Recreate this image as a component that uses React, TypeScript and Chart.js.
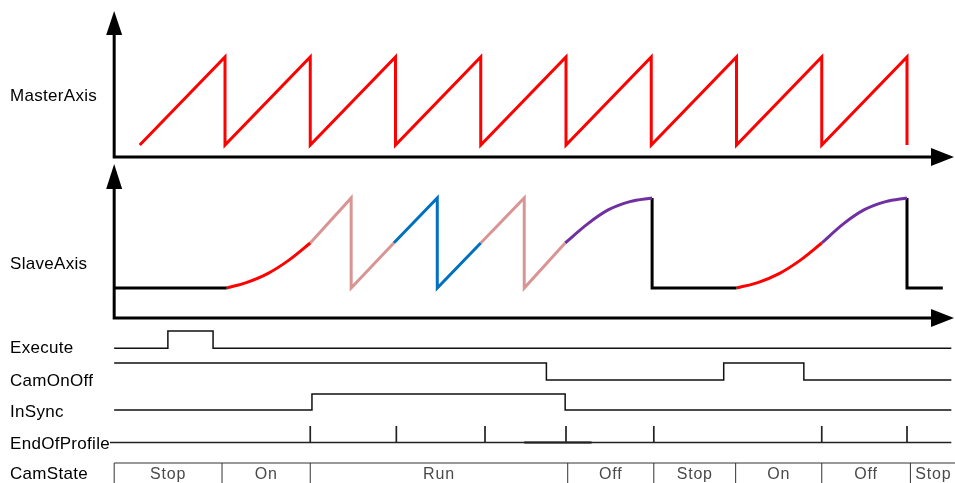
import React, { useEffect, useRef } from "react";
import { Chart, registerables } from "chart.js";

Chart.register(...registerables);

// ---------------- data (time measured in master-axis cycles) ----------------
const masterTime = [0, 1, 1, 2, 2, 3, 3, 4, 4, 5, 5, 6, 6, 7, 7, 8, 8, 9, 9];
const masterPos = [0, 1, 0, 1, 0, 1, 0, 1, 0, 1, 0, 1, 0, 1, 0, 1, 0, 1, 0];

// slave axis pieces
const slaveIdle1T = [-0.3, 1.02];
const slaveIdle1V = [0, 0];
const slaveCamIn1T = [1.02, 1.25, 1.5, 1.75, 2.0];
const slaveCamIn1V = [0, 0.06, 0.16, 0.31, 0.5];
const slaveRunA1T = [2.0, 2.48, 2.48, 2.98];
const slaveRunA1V = [0.5, 1, 0, 0.5];
const slaveRunBT = [2.98, 3.49, 3.49, 4.0];
const slaveRunBV = [0.5, 1, 0, 0.5];
const slaveRunA2T = [4.0, 4.51, 4.51, 4.99];
const slaveRunA2V = [0.5, 1, 0, 0.5];
const slaveCamOut1T = [4.99, 5.25, 5.5, 5.75, 6.01];
const slaveCamOut1V = [0.5, 0.71, 0.87, 0.96, 1];
const slaveIdle2T = [6.01, 6.01, 7.0];
const slaveIdle2V = [1, 0, 0];
const slaveCamIn2T = [7.0, 7.25, 7.5, 7.75, 8.0];
const slaveCamIn2V = [0, 0.06, 0.16, 0.31, 0.5];
const slaveCamOut2T = [8.0, 8.25, 8.5, 8.75, 9.0];
const slaveCamOut2V = [0.5, 0.71, 0.87, 0.96, 1];
const slaveIdle3T = [9.0, 9.0, 9.42];
const slaveIdle3V = [1, 0, 0];

// digital signals: (time of change, new level)
const executeT = [-0.3, 0.33, 0.86, 9.52];
const executeV = [0, 1, 0, 0];
const camOnOffT = [-0.3, 4.77, 6.85, 7.79, 9.52];
const camOnOffV = [1, 0, 1, 0, 0];
const inSyncT = [-0.3, 2.02, 4.99, 9.52];
const inSyncV = [0, 1, 0, 0];
const endOfProfileTicks = [2.0, 3.01, 4.05, 5.0, 6.03, 8.0, 9.0];
const endOfProfileSpan = [-0.35, 9.52];
const endOfProfileBoldSpan = [4.51, 5.3];

const camStateLabels = ["Stop", "On", "Run", "Off", "Stop", "On", "Off", "Stop"];
const camStateBounds = [-0.3, 0.965, 2.0, 5.02, 6.03, 6.99, 8.0, 9.04, 9.58];

// ---------------- layout ----------------
const ORIGIN_PX = 139.75;
const CYCLE_PX = 85.25;
const WIDTH = 955;
const HEIGHT = 483;
const AXIS_T = -0.3;
const FONT = '"Liberation Sans", Arial, Helvetica, sans-serif';

const ROWS = [
  { id: "yMaster", label: "MasterAxis", top: 0, bottom: 160, p0: 145, p1: 57, base: 100.7 },
  { id: "ySlave", label: "SlaveAxis", top: 160, bottom: 322, p0: 288, p1: 198, base: 269 },
  { id: "yExec", label: "Execute", top: 322, bottom: 356, p0: 348.3, p1: 331, base: 353 },
  { id: "yCam", label: "CamOnOff", top: 356, bottom: 388, p0: 380, p1: 363, base: 386 },
  { id: "ySync", label: "InSync", top: 388, bottom: 420, p0: 410, p1: 394, base: 417 },
  { id: "yEop", label: "EndOfProfile", top: 420, bottom: 452, p0: 442.5, p1: 426, base: 449 },
  { id: "yState", label: "CamState", top: 452, bottom: 483, p0: 483, p1: 463, base: 479 },
];

const AXES = [
  { axis: 157, tip: 11, head: 24 },
  { axis: 318, tip: 164, head: 25 },
];

const pts = (t: number[], v: (number | null)[]) => t.map((x, i) => ({ x, y: v[i] }));

const line = (row: string, data: any[], color: string, width: number, extra: any = {}) => ({
  xAxisID: "x",
  yAxisID: row,
  data,
  borderColor: color,
  borderWidth: width,
  pointRadius: 0,
  fill: false,
  tension: 0,
  clip: false,
  borderJoinStyle: "miter",
  ...extra,
});

const RED = "#ff0000";
const PINK = "#d99594";
const BLUE = "#0070c0";
const PURPLE = "#7030a0";
const curve = { cubicInterpolationMode: "monotone" };

function buildEop() {
  const d: { x: number; y: number }[] = [{ x: endOfProfileSpan[0], y: 0 }];
  endOfProfileTicks.forEach((t) => {
    d.push({ x: t, y: 0 }, { x: t, y: 1 }, { x: t, y: 0 });
  });
  d.push({ x: endOfProfileSpan[1], y: 0 });
  return d;
}

function buildDividers() {
  const d: { x: number; y: number | null }[] = [];
  camStateBounds.slice(0, -1).forEach((b) => {
    d.push({ x: b, y: 0 }, { x: b, y: 1 }, { x: b, y: null });
  });
  return d;
}

const decor = {
  id: "decor",
  beforeDatasetsDraw(chart: any) {
    const ctx = chart.ctx;
    const ox = chart.scales.x.getPixelForValue(AXIS_T);
    const tipX = chart.chartArea.right - 1;
    ctx.save();
    ctx.strokeStyle = "#000";
    ctx.fillStyle = "#000";
    ctx.lineWidth = 3;
    AXES.forEach((a) => {
      ctx.beginPath();
      ctx.moveTo(ox, a.tip + a.head - 2);
      ctx.lineTo(ox, a.axis);
      ctx.lineTo(tipX - 20, a.axis);
      ctx.stroke();
      ctx.beginPath();
      ctx.moveTo(ox, a.tip);
      ctx.lineTo(ox - 8, a.tip + a.head);
      ctx.lineTo(ox + 8, a.tip + a.head);
      ctx.closePath();
      ctx.fill();
      ctx.beginPath();
      ctx.moveTo(tipX, a.axis);
      ctx.lineTo(tipX - 23, a.axis - 9);
      ctx.lineTo(tipX - 23, a.axis + 9);
      ctx.closePath();
      ctx.fill();
    });
    ctx.restore();
  },
  afterDatasetsDraw(chart: any) {
    const ctx = chart.ctx;
    const xs = chart.scales.x;
    ctx.save();
    ctx.fillStyle = "#000";
    ctx.textBaseline = "alphabetic";
    ctx.textAlign = "left";
    ctx.font = `17px ${FONT}`;
    try { (ctx as any).letterSpacing = "0.3px"; } catch (e) {}
    ROWS.forEach((r) => ctx.fillText(r.label, 10, r.base));
    ctx.font = `16px ${FONT}`;
    try { (ctx as any).letterSpacing = "0.8px"; } catch (e) {}
    ctx.fillStyle = "#4a4a4a";
    ctx.textAlign = "center";
    const st = ROWS[6];
    camStateLabels.forEach((lab, i) => {
      const cx = (xs.getPixelForValue(camStateBounds[i]) + xs.getPixelForValue(camStateBounds[i + 1])) / 2;
      ctx.fillText(lab, cx, st.base);
    });
    ctx.restore();
  },
};

export default function App() {
  const ref = useRef<HTMLCanvasElement>(null);
  useEffect(() => {
    const canvas = ref.current;
    if (!canvas) return;
    const scales: any = {
      x: {
        type: "linear",
        display: false,
        min: -ORIGIN_PX / CYCLE_PX,
        max: (WIDTH - ORIGIN_PX) / CYCLE_PX,
        bounds: "data",
      },
    };
    ROWS.forEach((r, i) => {
      const s = r.p0 - r.p1;
      const min = -(r.bottom - r.p0) / s;
      const max = min + (r.bottom - r.top) / s;
      scales[r.id] = {
        type: "linear",
        display: false,
        position: "right",
        stack: "rows",
        stackWeight: r.bottom - r.top,
        weight: i,
        min,
        max,
        bounds: "data",
      };
    });

    const datasets: any[] = [
      line("yMaster", pts(masterTime, masterPos), RED, 3),
      line("ySlave", pts(slaveIdle1T, slaveIdle1V), "#000", 3),
      line("ySlave", pts(slaveCamIn1T, slaveCamIn1V), RED, 3, curve),
      line("ySlave", pts(slaveRunA1T, slaveRunA1V), PINK, 3),
      line("ySlave", pts(slaveRunBT, slaveRunBV), BLUE, 3),
      line("ySlave", pts(slaveRunA2T, slaveRunA2V), PINK, 3),
      line("ySlave", pts(slaveCamOut1T, slaveCamOut1V), PURPLE, 3, curve),
      line("ySlave", pts(slaveIdle2T, slaveIdle2V), "#000", 3),
      line("ySlave", pts(slaveCamIn2T, slaveCamIn2V), RED, 3, curve),
      line("ySlave", pts(slaveCamOut2T, slaveCamOut2V), PURPLE, 3, curve),
      line("ySlave", pts(slaveIdle3T, slaveIdle3V), "#000", 3),
      line("yExec", pts(executeT, executeV), "#111", 1.5, { stepped: "before" }),
      line("yCam", pts(camOnOffT, camOnOffV), "#111", 1.5, { stepped: "before" }),
      line("ySync", pts(inSyncT, inSyncV), "#111", 1.5, { stepped: "before" }),
      line("yEop", buildEop(), "#222", 1.7),
      line("yEop", pts(endOfProfileBoldSpan, [0, 0]), "#000", 2.2),
      line("yState", pts([camStateBounds[0], camStateBounds[camStateBounds.length - 1]], [1, 1]), "#333", 1),
      line("yState", buildDividers(), "#333", 1),
    ];

    const chart = new Chart(canvas, {
      type: "line",
      data: { datasets },
      options: {
        animation: false,
        responsive: true,
        maintainAspectRatio: false,
        events: [],
        layout: { padding: 0 },
        plugins: { legend: { display: false }, tooltip: { enabled: false } },
        scales,
      } as any,
      plugins: [decor],
    });
    return () => chart.destroy();
  }, []);

  return (
    <div style={{ position: "fixed", left: 0, top: 0, width: WIDTH, height: HEIGHT, background: "#fff" }}>
      <canvas ref={ref} />
    </div>
  );
}
